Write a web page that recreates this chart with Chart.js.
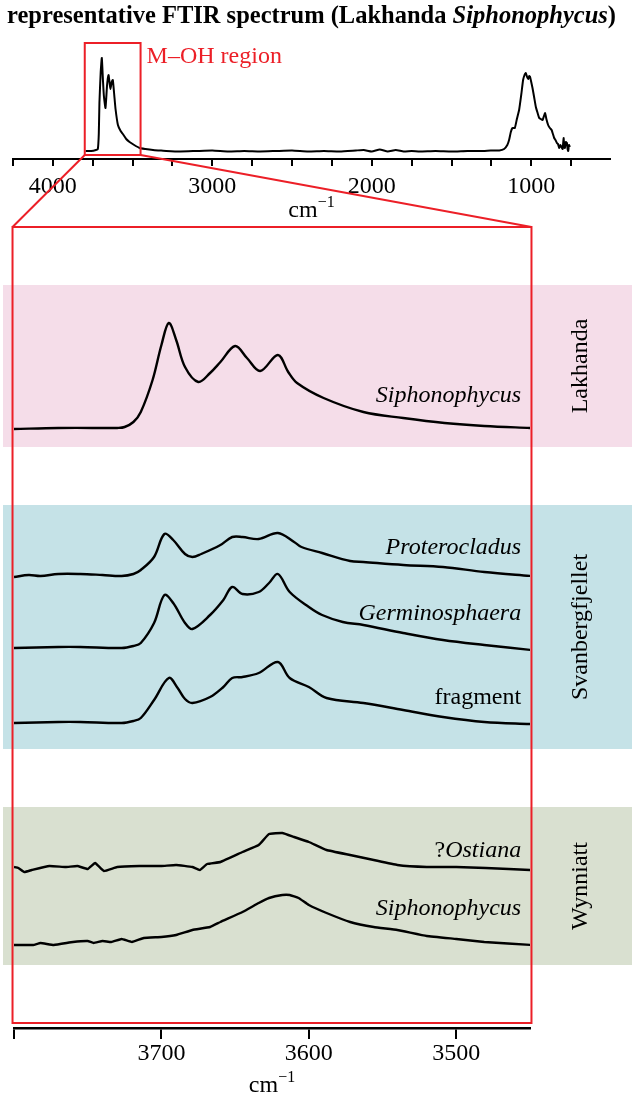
<!DOCTYPE html>
<html><head><meta charset="utf-8">
<script src="https://cdn.jsdelivr.net/npm/chart.js@4/dist/chart.umd.min.js"></script>
<style>
html,body{margin:0;padding:0;background:#fff;}
#wrap{position:relative;width:632px;height:1097px;overflow:hidden;}
canvas{position:absolute;left:0;}
</style></head><body>
<div id="wrap">
<canvas id="topChart" width="632" height="222" style="top:0"></canvas>
<canvas id="bottomChart" width="632" height="875" style="top:222px"></canvas>
<canvas id="overlay" width="632" height="1097" style="top:0;pointer-events:none"></canvas>
</div>
<script>
// ---------- DATA ----------
const titleParts = ['representative FTIR spectrum (Lakhanda ', 'Siphonophycus', ')'];
const axisUnit = ['cm', '\u22121'];
const regionLabel = 'M\u2013OH region';
const regionRange = [3800, 3450];         // cm-1
const regionBoxY = [0.04, 1.16];          // a.u. in overview
const regionLabelY = 0.96;

const topTicks = [4250, 4000, 3750, 3500, 3250, 3000, 2750, 2500, 2250, 2000, 1750, 1500, 1250, 1000, 750];
const topTickLabels = [4000, 3000, 2000, 1000];
const bottomTicks = [3800, 3700, 3600, 3500];
const bottomTickLabels = [3700, 3600, 3500];

// overview spectrum (Lakhanda Siphonophycus)
const fullWn = [3795,3760,3730,3718,3712,3708,3700,3693,3686,3680,3670,3660,3651,3645,3639,3631,3624,3615,3607,3592,3575,3561,3540,3519,3490,3456,3420,3372,3330,3289,3200,3100,3000,2900,2800,2700,2600,2500,2400,2300,2200,2100,2050,2000,1950,1900,1850,1800,1750,1700,1600,1500,1400,1300,1254,1200,1170,1150,1139,1128,1118,1103,1090,1076,1062,1051,1042,1034,1026,1019,1012,1007,1000,992,982,971,960,950,940,929,920,913,905,894,883,872,864,856,848,839,832,825,817,810,803,797,793,789,783,776,772,768,763,758];
const fullAbs = [0.08,0.08,0.09,0.10,0.25,0.56,0.87,1.01,0.79,0.63,0.51,0.74,0.84,0.77,0.70,0.77,0.79,0.64,0.50,0.34,0.28,0.25,0.20,0.17,0.14,0.11,0.10,0.09,0.085,0.08,0.075,0.08,0.085,0.075,0.08,0.075,0.08,0.085,0.075,0.08,0.075,0.085,0.09,0.075,0.095,0.075,0.09,0.075,0.08,0.075,0.08,0.075,0.08,0.08,0.085,0.085,0.10,0.14,0.19,0.27,0.31,0.31,0.40,0.49,0.65,0.79,0.84,0.86,0.82,0.80,0.83,0.82,0.77,0.71,0.62,0.52,0.46,0.41,0.40,0.39,0.43,0.46,0.40,0.34,0.31,0.29,0.25,0.21,0.19,0.16,0.15,0.11,0.14,0.12,0.10,0.21,0.12,0.11,0.17,0.16,0.10,0.08,0.14,0.12];

// M-OH region spectra
const lakhandaSiphWn  = [3800,3770,3735,3730,3725,3719,3714,3706,3700,3695,3690,3684,3675,3667,3660,3650,3642,3633,3621,3614,3608,3590,3563,3536,3508,3481,3449];
const lakhandaSiphAbs = [0,0.01,0.01,0.01,0.02,0.07,0.17,0.49,0.84,1.06,0.89,0.62,0.47,0.56,0.67,0.83,0.71,0.58,0.74,0.57,0.46,0.31,0.17,0.11,0.06,0.03,0.01];

const proteroWn  = [3800,3790,3782,3770,3755,3740,3727,3719,3714,3705,3698,3692,3684,3679,3673,3660,3652,3645,3634,3621,3610,3605,3591,3572,3563,3536,3509,3481,3449];
const proteroAbs = [0,0.02,0.01,0.03,0.03,0.02,0.01,0.03,0.07,0.20,0.43,0.37,0.23,0.20,0.23,0.32,0.40,0.40,0.38,0.44,0.35,0.30,0.24,0.16,0.15,0.12,0.10,0.05,0.01];

const germinoWn  = [3800,3770,3755,3727,3719,3714,3705,3698,3692,3684,3679,3667,3658,3652,3645,3634,3627,3621,3613,3600,3591,3577,3563,3536,3509,3481,3449];
const germinoAbs = [0,0.01,0.01,0,0.02,0.05,0.25,0.53,0.45,0.25,0.19,0.33,0.48,0.61,0.54,0.56,0.65,0.74,0.56,0.41,0.33,0.26,0.23,0.15,0.08,0.03,-0.02];

const fragmentWn  = [3800,3770,3755,3727,3719,3714,3705,3695,3689,3684,3679,3667,3658,3652,3645,3634,3621,3613,3600,3588,3563,3536,3509,3481,3449];
const fragmentAbs = [0,0.01,0.01,0,0.02,0.05,0.23,0.45,0.35,0.24,0.20,0.26,0.36,0.45,0.46,0.50,0.61,0.45,0.36,0.25,0.20,0.13,0.06,0.01,-0.01];

const ostianaWn  = [3800,3797,3793,3788,3776,3765,3757,3750,3745,3739,3730,3715,3700,3690,3679,3674,3669,3660,3645,3634,3627,3618,3610,3600,3588,3572,3556,3540,3520,3500,3480,3449];
const ostianaAbs = [0,-0.01,-0.05,-0.03,0.01,0,0.01,-0.02,0.04,-0.04,0,0.01,0.01,0.02,0,-0.03,0.03,0.05,0.15,0.22,0.33,0.34,0.30,0.25,0.17,0.12,0.07,0.02,0,0,-0.01,-0.03];

const wynSiphWn  = [3800,3787,3782,3773,3760,3750,3746,3740,3734,3727,3720,3712,3700,3690,3679,3667,3660,3645,3634,3627,3618,3613,3607,3600,3588,3572,3556,3540,3520,3500,3481,3449];
const wynSiphAbs = [0,0,0.02,0,0.03,0.04,0.02,0.04,0.03,0.06,0.03,0.07,0.08,0.10,0.15,0.18,0.23,0.33,0.42,0.47,0.50,0.50,0.47,0.40,0.32,0.23,0.18,0.15,0.09,0.06,0.03,0];

const spectraWn   = [lakhandaSiphWn, proteroWn, germinoWn, fragmentWn, ostianaWn, wynSiphWn];
const spectraAbs  = [lakhandaSiphAbs, proteroAbs, germinoAbs, fragmentAbs, ostianaAbs, wynSiphAbs];
const spectraOffset = [5.99, 4.51, 3.80, 3.05, 1.61, 0.83];
const spectraNames  = ['Siphonophycus', 'Proterocladus', 'Germinosphaera', 'fragment', '?Ostiana', 'Siphonophycus'];
const spectraItalic = [true, true, true, false, true, true];
const spectraLabelY = [6.26, 4.74, 4.08, 3.24, 1.71, 1.13];
const spectraSmooth = [true, true, true, true, false, false];
const labelWn = 3456;

const groupNames  = ['Lakhanda', 'Svanbergfjellet', 'Wynniatt'];
const groupBands  = [[5.81, 7.43], [2.79, 5.23], [0.63, 2.21]];
const groupColors = ['#f5dde9', '#c5e2e7', '#d9e0d0'];
const zoomRectX = [3801, 3449];
const zoomRectY = [0.05, 8.01];

// ---------- STYLE ----------
const RED = '#ec1f27';
const SERIF = '"Liberation Serif", "Times New Roman", serif';

function drawUnit(ctx, cx, baseline) {
  ctx.font = '24px ' + SERIF;
  const w1 = ctx.measureText(axisUnit[0]).width;
  ctx.font = '16px ' + SERIF;
  const w2 = ctx.measureText(axisUnit[1]).width;
  let x = cx - (w1 + w2) / 2;
  ctx.fillStyle = '#000';
  ctx.textAlign = 'left';
  ctx.textBaseline = 'alphabetic';
  ctx.font = '24px ' + SERIF;
  ctx.fillText(axisUnit[0], x, baseline);
  ctx.font = '16px ' + SERIF;
  ctx.fillText(axisUnit[1], x + w1, baseline - 10);
}

const topDecor = {
  id: 'topDecor',
  afterDraw(chart) {
    const {ctx, chartArea, scales: {x, y}} = chart;
    ctx.save();
    const fonts = ['bold 24.5px ' + SERIF, 'italic bold 24.5px ' + SERIF, 'bold 24.5px ' + SERIF];
    let widths = titleParts.map((t, i) => { ctx.font = fonts[i]; return ctx.measureText(t).width; });
    let total = widths.reduce((a, b) => a + b, 0);
    let tx = 311.5 - total / 2;
    ctx.fillStyle = '#000';
    ctx.textBaseline = 'alphabetic';
    ctx.textAlign = 'left';
    titleParts.forEach((t, i) => { ctx.font = fonts[i]; ctx.fillText(t, tx, 23); tx += widths[i]; });
    const x1 = x.getPixelForValue(regionRange[0]), x2 = x.getPixelForValue(regionRange[1]);
    const y1 = y.getPixelForValue(regionBoxY[1]), y2 = y.getPixelForValue(regionBoxY[0]);
    ctx.strokeStyle = RED; ctx.lineWidth = 2;
    ctx.strokeRect(x1, y1, x2 - x1, y2 - y1);
    ctx.fillStyle = RED;
    ctx.font = '24px ' + SERIF;
    ctx.fillText(regionLabel, x2 + 6, y.getPixelForValue(regionLabelY));
    drawUnit(ctx, (chartArea.left + chartArea.right) / 2, 217);
    ctx.restore();
  }
};

const bottomDecor = {
  id: 'bottomDecor',
  beforeDatasetsDraw(chart) {
    const {ctx, scales: {y}} = chart;
    ctx.save();
    groupBands.forEach((b, i) => {
      const yt = y.getPixelForValue(b[1]), yb = y.getPixelForValue(b[0]);
      ctx.fillStyle = groupColors[i];
      ctx.fillRect(3, yt, chart.width - 3, yb - yt);
    });
    ctx.restore();
  },
  afterDatasetsDraw(chart) {
    const {ctx, chartArea, scales: {x, y}} = chart;
    ctx.save();
    const x1 = x.getPixelForValue(zoomRectX[0]), x2 = x.getPixelForValue(zoomRectX[1]);
    const y1 = y.getPixelForValue(zoomRectY[1]), y2 = y.getPixelForValue(zoomRectY[0]);
    ctx.strokeStyle = RED; ctx.lineWidth = 2;
    ctx.strokeRect(x1, y1, x2 - x1, y2 - y1);
    ctx.fillStyle = '#000';
    ctx.textBaseline = 'alphabetic';
    spectraNames.forEach((name, i) => {
      const px = x.getPixelForValue(labelWn), py = y.getPixelForValue(spectraLabelY[i]);
      ctx.textAlign = 'right';
      if (name.startsWith('?')) {
        ctx.font = 'italic 24px ' + SERIF;
        const rest = name.slice(1);
        const w = ctx.measureText(rest).width;
        ctx.fillText(rest, px, py);
        ctx.font = '24px ' + SERIF;
        ctx.fillText('?', px - w, py);
      } else {
        ctx.font = (spectraItalic[i] ? 'italic ' : '') + '24px ' + SERIF;
        ctx.fillText(name, px, py);
      }
    });
    ctx.font = '24px ' + SERIF;
    ctx.textAlign = 'center';
    ctx.textBaseline = 'middle';
    groupNames.forEach((g, i) => {
      const cy = (y.getPixelForValue(groupBands[i][0]) + y.getPixelForValue(groupBands[i][1])) / 2;
      ctx.save();
      ctx.translate(chartArea.right + 51, cy);
      ctx.rotate(-Math.PI / 2);
      ctx.fillText(g, 0, 0);
      ctx.restore();
    });
    drawUnit(ctx, (chartArea.left + chartArea.right) / 2, 1092 - 222);
    ctx.restore();
  }
};

function xy(wn, ab, off) { return wn.map((w, i) => ({x: w, y: ab[i] + (off || 0)})); }

Chart.defaults.font.family = SERIF;
Chart.defaults.color = '#000';

const topChart = new Chart(document.getElementById('topChart'), {
  type: 'scatter',
  data: { datasets: [{ data: xy(fullWn, fullAbs), showLine: true, borderColor: '#000', borderWidth: 2, pointRadius: 0, tension: 0.15 }] },
  options: {
    responsive: false, animation: false, events: [],
    layout: { padding: { top: 40, left: 13, right: 22, bottom: 0 } },
    plugins: { legend: { display: false }, tooltip: { enabled: false } },
    scales: {
      x: {
        type: 'linear', reverse: true, min: 506, max: 4250,
        afterBuildTicks: (s) => { s.ticks = topTicks.map(v => ({value: v})); },
        afterFit: (s) => { s.height = 63; },
        border: { display: true, color: '#000', width: 2 },
        grid: { drawOnChartArea: false, drawTicks: true, tickLength: 7, color: '#000', lineWidth: 2 },
        ticks: { autoSkip: false, maxRotation: 0, padding: 6,
          font: { size: 24, family: SERIF }, color: '#000',
          callback: (v) => topTickLabels.includes(v) ? String(v) : '' }
      },
      y: { display: false, min: 0, max: 1.19 }
    }
  },
  plugins: [topDecor]
});

const bottomChart = new Chart(document.getElementById('bottomChart'), {
  type: 'scatter',
  data: { datasets: spectraWn.map((wn, i) => ({
    data: xy(wn, spectraAbs[i], spectraOffset[i]), showLine: true, borderColor: '#000', borderWidth: 2.4,
    pointRadius: 0, tension: spectraSmooth[i] ? 0.35 : 0.1
  })) },
  options: {
    responsive: false, animation: false, events: [],
    layout: { padding: { top: 5, left: 14, right: 102, bottom: 0 } },
    plugins: { legend: { display: false }, tooltip: { enabled: false } },
    scales: {
      x: {
        type: 'linear', reverse: true, min: 3450, max: 3800,
        afterBuildTicks: (s) => { s.ticks = bottomTicks.map(v => ({value: v})); },
        afterFit: (s) => { s.height = 69; },
        border: { display: true, color: '#000', width: 2.5 },
        grid: { drawOnChartArea: false, drawTicks: true, tickLength: 11, color: '#000', lineWidth: 2 },
        ticks: { autoSkip: false, maxRotation: 0, padding: 0,
          font: { size: 24, family: SERIF }, color: '#000',
          callback: (v) => bottomTickLabels.includes(v) ? String(v) : '' }
      },
      y: { display: false, min: 0, max: 8.01 }
    }
  },
  plugins: [bottomDecor]
});

(function drawConnectors() {
  const ov = document.getElementById('overlay');
  const ctx = ov.getContext('2d');
  const tc = document.getElementById('topChart').offsetTop;
  const bc = document.getElementById('bottomChart').offsetTop;
  const tx = topChart.scales.x, ty = topChart.scales.y;
  const bx = bottomChart.scales.x, by = bottomChart.scales.y;
  ctx.strokeStyle = RED; ctx.lineWidth = 2;
  [[regionRange[0], zoomRectX[0]], [regionRange[1], zoomRectX[1]]].forEach(([a, b]) => {
    ctx.beginPath();
    ctx.moveTo(tx.getPixelForValue(a), tc + ty.getPixelForValue(regionBoxY[0]));
    ctx.lineTo(bx.getPixelForValue(b), bc + by.getPixelForValue(zoomRectY[1]));
    ctx.stroke();
  });
})();
</script>
</body></html>
